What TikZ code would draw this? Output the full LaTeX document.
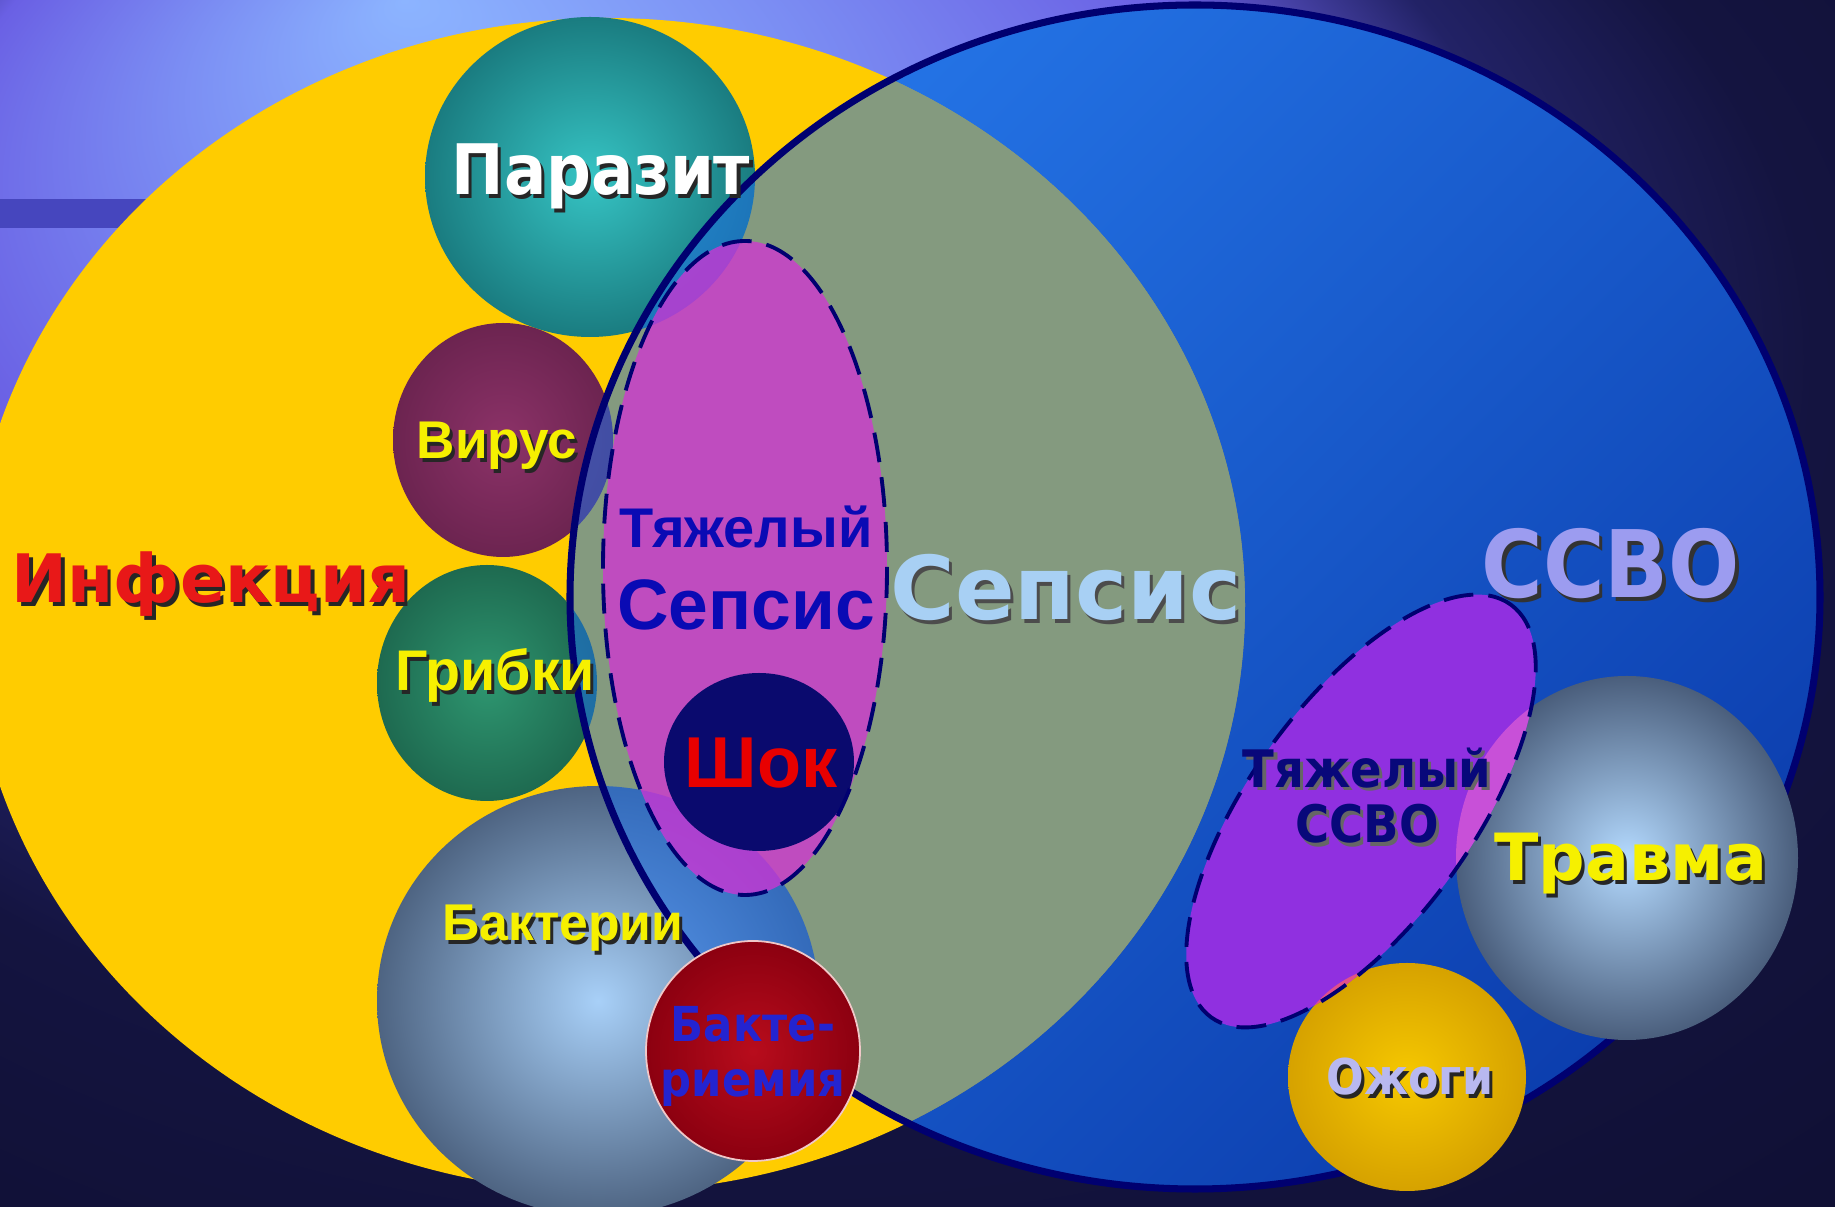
\documentclass[tikz,border=0pt]{standalone}
\usepackage{fontspec}
\usepackage{xcolor}
\usepackage{tikz}
\usetikzlibrary{calc}

\setmainfont{Liberation Sans}
\newfontfamily\libsans{Liberation Sans}
\newfontfamily\djsans{DejaVu Sans}
\newfontfamily\djnarrow{DejaVu Sans}[FakeStretch=0.9]

% background and shapes
\definecolor{bgA}{HTML}{8CB4FF}
\definecolor{bgB}{HTML}{7C90F4}
\definecolor{bgC}{HTML}{6A60E4}
\definecolor{bgD}{HTML}{222266}
\definecolor{bgX}{HTML}{141440}
\definecolor{bgE}{HTML}{0C0C2A}
\definecolor{barblue}{HTML}{4646BE}
\definecolor{infyellow}{HTML}{FFCC00}
\definecolor{ssvoA}{HTML}{2474E6}
\definecolor{ssvoB}{HTML}{0C3EAE}
\definecolor{ssvotint}{HTML}{1F71E9}
\definecolor{navyline}{HTML}{000070}
\definecolor{sepmag}{HTML}{D432D5}
\definecolor{shocknavy}{HTML}{0A0A6E}
\definecolor{sevviolet}{HTML}{9030E0}
\definecolor{travpink}{HTML}{C850D8}
\definecolor{burnpink}{HTML}{E0508A}
\definecolor{parA}{HTML}{36C4C4}
\definecolor{parB}{HTML}{1A7C80}
\definecolor{virA}{HTML}{8C3268}
\definecolor{virB}{HTML}{6C2450}
\definecolor{gribA}{HTML}{2E9670}
\definecolor{gribB}{HTML}{1E6A50}
\definecolor{bakA}{HTML}{A8D0F8}
\definecolor{bakB}{HTML}{4E6482}
\definecolor{bemA}{HTML}{B80C1C}
\definecolor{bemB}{HTML}{8C0010}
\definecolor{bemrim}{HTML}{F0C8C8}
\definecolor{travA}{HTML}{B4DAFF}
\definecolor{travB}{HTML}{4A5E7C}
\definecolor{burnA}{HTML}{F6C800}
\definecolor{burnB}{HTML}{D6A200}
% text
\definecolor{infred}{HTML}{E81818}
\definecolor{txtyellow}{HTML}{F6F000}
\definecolor{sevblue}{HTML}{0A0AB4}
\definecolor{shockred}{HTML}{E80000}
\definecolor{sepsislight}{HTML}{A8D0F4}
\definecolor{ssvolav}{HTML}{9C9CF0}
\definecolor{sevnavy}{HTML}{08087A}
\definecolor{burnlav}{HTML}{B8B8F0}
\definecolor{bakblue}{HTML}{2424D0}

\pgfdeclareradialshading{bgglow}{\pgfpoint{-14bp}{25bp}}{color(0bp)=(bgA); color(8bp)=(bgB); color(18bp)=(bgC); color(24bp)=(bgD); color(30bp)=(bgX); color(50bp)=(bgE)}

% text with a dark drop shadow
\newcommand{\shd}[2][black!85]{\leavevmode\rlap{\kern0.9pt\raisebox{-0.9pt}{\textcolor{#1}{#2}}}#2}

\begin{document}
\begin{tikzpicture}[
    x=0.01cm, y=-0.01cm,
    lbl/.style={inner sep=0pt, anchor=base, align=center},
    dashring/.style={draw=navyline, line width=1.1pt, dash pattern=on 8.5pt off 4.3pt}
]
\useasboundingbox (0,0) rectangle (1835,1207);
\clip (0,0) rectangle (1835,1207);

% background
\shade[shading=bgglow] (0,0) rectangle (1835,1207);
\fill[barblue] (0,199) rectangle (400,228);

% SIRS and infection
\shade[top color=ssvoA, bottom color=ssvoB, shading angle=45] (1195,597) ellipse [x radius=625, y radius=592];
\fill[infyellow] (607,605) ellipse [x radius=638, y radius=587];

% pathogens
\shade[inner color=parA, outer color=parB] (590,177) ellipse [x radius=165, y radius=160];
\shade[inner color=virA, outer color=virB] (503,440) ellipse [x radius=110, y radius=117];
\shade[inner color=gribA, outer color=gribB] (487,683) ellipse [x radius=110, y radius=118];
\shade[inner color=bakA, outer color=bakB] (598,1001) ellipse [x radius=221, y radius=215];

% sepsis = overlap
\begin{scope}
  \clip (607,605) ellipse [x radius=638, y radius=587];
  \fill[ssvotint, opacity=0.55] (1195,597) ellipse [x radius=625, y radius=592];
\end{scope}
\draw[navyline, line width=2pt] (1195,597) ellipse [x radius=625, y radius=592];

% severe sepsis, shock
\fill[sepmag, opacity=0.75] (745,568) ellipse [x radius=142, y radius=327];
\fill[shocknavy] (759,762) ellipse [x radius=95, y radius=89];
\draw[dashring] (745,568) ellipse [x radius=142, y radius=327];

% bacteremia
\shade[inner color=bemA, outer color=bemB] (753,1051) ellipse [x radius=107, y radius=110];
\draw[bemrim, line width=0.5pt] (753,1051) ellipse [x radius=107, y radius=110];

% trauma, burns, severe SIRS
\shade[inner color=travA, outer color=travB] (1627,858) ellipse [x radius=171, y radius=182];
\shade[inner color=burnA, outer color=burnB] (1407,1077) ellipse [x radius=119, y radius=114];
\fill[sevviolet, rotate around={54:(1361,811)}] (1361,811) ellipse [x radius=255, y radius=111];
\begin{scope}
  \clip[rotate around={54:(1361,811)}] (1361,811) ellipse [x radius=255, y radius=111];
  \fill[travpink] (1627,858) ellipse [x radius=171, y radius=182];
  \fill[burnpink] (1407,1077) ellipse [x radius=119, y radius=114];
\end{scope}
\draw[dashring, rotate around={54:(1361,811)}] (1361,811) ellipse [x radius=255, y radius=111];

% labels
\node[lbl, text=infred, font=\djsans\bfseries\fontsize{19}{21}\selectfont] (infection) at (211,603) {\shd{Инфекция}};
\node[lbl, text=white, font=\djnarrow\bfseries\fontsize{19.8}{21}\selectfont] (parasite) at (601,195) {\shd{Паразит}};
\node[lbl, text=txtyellow, font=\libsans\bfseries\fontsize{15.1}{17}\selectfont] (virus) at (497,459) {\shd{Вирус}};
\node[lbl, text=txtyellow, font=\libsans\bfseries\fontsize{16.3}{18}\selectfont] (fungi) at (495,691) {\shd{Грибки}};
\node[lbl, text=txtyellow, font=\libsans\bfseries\fontsize{14.7}{16}\selectfont] (bacteria) at (563,941) {\shd{Бактерии}};
\node[lbl, text=bakblue, font=\djnarrow\bfseries\fontsize{13.7}{15.9}\selectfont] (bacteremia) at (753,1097) {Бакте-\\риемия};
\node[lbl, text=sevblue, font=\libsans\bfseries\fontsize{15.9}{17}\selectfont] (severe) at (746,548) {Тяжелый};
\node[lbl, text=sevblue, font=\libsans\bfseries\fontsize{20.3}{22}\selectfont] (sevsepsis) at (746,630) {Сепсис};
\node[lbl, text=shockred, font=\libsans\bfseries\fontsize{20.5}{22}\selectfont] (shock) at (761,788) {Шок};
\node[lbl, text=sepsislight, font=\djsans\bfseries\fontsize{25}{27}\selectfont] (sepsis) at (1066,620) {\shd[black!70]{Сепсис}};
\node[lbl, text=ssvolav, font=\djnarrow\bfseries\fontsize{26.5}{28}\selectfont] (ssvo) at (1611,598) {\shd[black!80]{ССВО}};
\node[lbl, text=sevnavy, font=\djnarrow\bfseries\fontsize{14.7}{15.9}\selectfont] (sevssvo) at (1367,843) {\shd[black!60]{Тяжелый}\\\shd[black!60]{ССВО}};
\node[lbl, text=txtyellow, font=\djsans\bfseries\fontsize{18.5}{20}\selectfont] (trauma) at (1631,881) {\shd{Травма}};
\node[lbl, text=burnlav, font=\djnarrow\bfseries\fontsize{14}{16}\selectfont] (burns) at (1410,1095) {\shd[black!85]{Ожоги}};
\end{tikzpicture}
\end{document}
